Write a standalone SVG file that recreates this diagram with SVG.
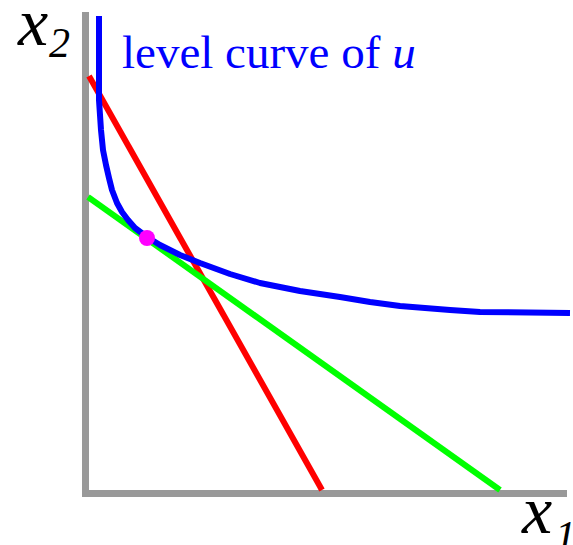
<svg xmlns="http://www.w3.org/2000/svg" width="573" height="545" viewBox="0 0 573 545">
<style>
.ax{stroke:#999999;stroke-width:7;fill:none}
.ln{stroke-width:6;fill:none;stroke-linecap:butt}
.lbl{font-family:"Liberation Serif","Times New Roman",serif;font-style:italic;fill:#000}
</style>
<rect width="573" height="545" fill="#ffffff"/>
<g id="axes">
<path class="ax" d="M85.5,12 V493.5 H567"/>
</g>
<g id="red-line"><path class="ln" stroke="#ff0000" d="M89,76 L322,490"/></g>
<g id="green-line"><path class="ln" stroke="#00ff00" d="M88,197 L500,490"/></g>
<g id="level-curve">
<path class="ln" stroke="#0000ff" stroke-linejoin="round" d="M99,16 L99,100 L101,130 L103,150 L106,165 L109,178 L112,190 L117,203 L122,212 L128,220 L135,228 L147,237 L160,245 L180,255 L200,263 L230,274 L260,283 L300,291 L340,297 L370,302 L400,306 L450,310 L480,312 L570,313"/>
</g>
<g id="tangent-point"><circle cx="147" cy="238" r="8" fill="#ff00ff"/></g>
<g id="labels">
<text class="lbl" x="18" y="45" font-size="68">x</text>
<text class="lbl" x="49" y="57" font-size="42" font-style="normal">2</text>
<text class="lbl" x="522" y="533" font-size="68">x</text>
<text class="lbl" x="555" y="550" font-size="42" font-style="normal">1</text>
<text x="122" y="68" font-family="'Liberation Serif','Times New Roman',serif" font-size="47" fill="#0000ff">level curve of <tspan font-style="italic">u</tspan></text>
</g>
</svg>
